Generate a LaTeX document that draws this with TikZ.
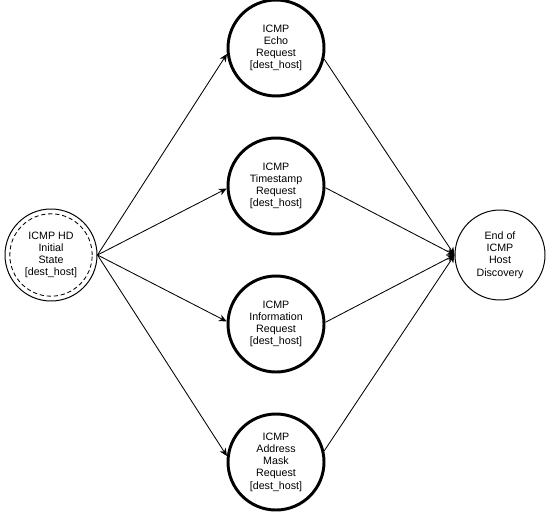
\documentclass[tikz,border=0pt]{standalone}
\usepackage{fontspec}
\setmainfont{Liberation Sans}
\usetikzlibrary{arrows.meta}
\begin{document}
\begin{tikzpicture}[
  state/.style={draw, circle, align=center, inner sep=0pt, line width=0.7pt, font=\fontsize{7.6}{8.7}\selectfont},
  req/.style={state, minimum size=2.4cm, line width=2.1pt},
  arr/.style={-{Stealth[length=5.5pt,width=5pt]}, line width=0.6pt}
]
\useasboundingbox (0,0) rectangle (13.75,-12.85);
\node[state, minimum size=2.3cm] (init) at (1.275,-6.375) {ICMP HD\\Initial\\State\\{}[dest\_host]};
\draw[dashed, dash pattern=on 3pt off 2pt, line width=0.6pt] (init.center) circle (1.03cm);
\node[req] (echo) at (6.9,-1.2) {ICMP\\Echo\\Request\\{}[dest\_host]};
\node[req] (stamp) at (6.9,-4.65) {ICMP\\Timestamp\\Request\\{}[dest\_host]};
\node[req] (info) at (6.9,-8.1) {ICMP\\Information\\Request\\{}[dest\_host]};
\node[req] (mask) at (6.9,-11.55) {ICMP\\Address\\Mask\\Request\\{}[dest\_host]};
\node[state, minimum size=2.25cm] (done) at (12.5,-6.375) {End of\\ICMP\\Host\\Discovery};
\draw[arr] (init.east) -- (echo.187);
\draw[arr] (init.east) -- (stamp.183);
\draw[arr] (init.east) -- (info.177);
\draw[arr] (init.east) -- (mask.173);
\draw[arr] (echo.-13) -- (done.west);
\draw[arr] (stamp.-2) -- (done.west);
\draw[arr] (info.2) -- (done.west);
\draw[arr] (mask.13) -- (done.west);
\end{tikzpicture}
\end{document}
